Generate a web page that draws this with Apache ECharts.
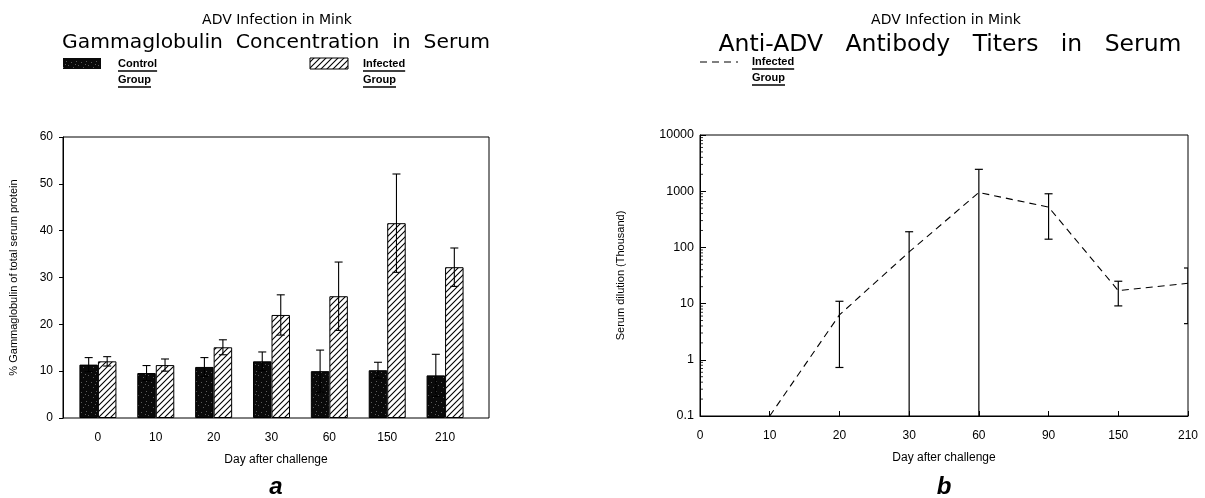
<!DOCTYPE html>
<html><head><meta charset="utf-8">
<script src="https://cdn.jsdelivr.net/npm/echarts@6/dist/echarts.min.js"></script>
<style>html,body{margin:0;padding:0;background:#fff}#c{width:1205px;height:498px}</style>
</head><body><div id="c"></div>
<script>
// ---------- data: panel a ----------
const daysA = ['0','10','20','30','60','150','210'];
const controlMean = [11.4, 9.6, 10.9, 12.1, 10.0, 10.2, 9.1];
const controlErr  = [1.5, 1.6, 2.0, 2.0, 4.5, 1.7, 4.5];
const infectedMean = [12.1, 11.3, 15.1, 22.0, 26.0, 41.6, 32.2];
const infectedErr  = [1.0, 1.3, 1.6, 4.3, 7.3, 10.5, 4.1];
const yTicksA = [0, 10, 20, 30, 40, 50, 60];
// ---------- data: panel b ----------
const daysB = ['0','10','20','30','60','90','150','210'];
const titerMean = ['-', 0.1, 6.3, 83, 950, 520, 17, 23];
const titerLow  = ['-', '-', 0.73, 0.01, 0.01, 140, 9.1, 4.4];
const titerHigh = ['-', '-', 11, 190, 2450, 900, 25, 43];
const logDecades = [0.1, 1, 10, 100, 1000];
const logMinorSteps = [2, 3, 4, 5, 6, 7, 8, 9];

const FONT = 'Liberation Sans';
const TFONT = 'DejaVu Sans';
const BAR_W = 18.5;

function makeHatch(){
  const c = document.createElement('canvas'); c.width = 6; c.height = 6;
  const g = c.getContext('2d');
  g.fillStyle = '#fff'; g.fillRect(0,0,6,6);
  g.strokeStyle = '#000'; g.lineWidth = 1.1;
  g.beginPath();
  g.moveTo(0,6); g.lineTo(6,0);
  g.moveTo(-1,1); g.lineTo(1,-1);
  g.moveTo(5,7); g.lineTo(7,5);
  g.stroke();
  return c;
}
function makeStipple(){
  const c = document.createElement('canvas'); c.width = 10; c.height = 10;
  const g = c.getContext('2d');
  g.fillStyle = '#0a0a0a'; g.fillRect(0,0,10,10);
  g.fillStyle = '#5a5a5a';
  [[1,2],[6,1],[3,7],[8,5],[5,4]].forEach(p=>g.fillRect(p[0],p[1],1,1));
  return c;
}
const hatchPattern = {image: makeHatch(), repeat: 'repeat'};
const stipplePattern = {image: makeStipple(), repeat: 'repeat'};

const measure = (() => { const c = document.createElement('canvas').getContext('2d');
  return (t, f) => { c.font = f; return c.measureText(t).width; }; })();

function legendLabel(x, y, lines){
  const f = 'bold 11px ' + FONT;
  const out = [];
  lines.forEach((t, k) => {
    const yy = y + k * 16;
    const w = measure(t, f);
    out.push({type:'text', x: x, y: yy, style:{text:t, font:f, fill:'#000', textVerticalAlign:'middle'}});
    out.push({type:'line', shape:{x1:x, y1:yy+7, x2:x+w, y2:yy+7}, style:{stroke:'#000', lineWidth:1.3}});
  });
  return out;
}

function errRenderer(sign){
  return function(params, api){
    const i = api.value(0);
    const lo = api.coord([i, api.value(1)]);
    const hi = api.coord([i, api.value(2)]);
    const x = lo[0] + sign * BAR_W / 2;
    const cap = 4;
    const st = {stroke:'#000', lineWidth:1.1};
    return {type:'group', children:[
      {type:'line', shape:{x1:x, y1:hi[1], x2:x, y2:lo[1]}, style:st},
      {type:'line', shape:{x1:x-cap, y1:hi[1], x2:x+cap, y2:hi[1]}, style:st},
      {type:'line', shape:{x1:x-cap, y1:lo[1], x2:x+cap, y2:lo[1]}, style:st}
    ]};
  };
}

const ctrlErrData = controlMean.map((m,i)=>[i, m - controlErr[i], m + controlErr[i]]);
const infErrData = infectedMean.map((m,i)=>[i, m - infectedErr[i], m + infectedErr[i]]);
const titerErrData = daysB.map((d,i)=>[i, titerLow[i], titerHigh[i]]).filter(r => r[1] !== '-');
const minorTickData = [];
logDecades.forEach(d => logMinorSteps.forEach(s => minorTickData.push([0, +(d*s).toPrecision(3)])));

const axisText = {color:'#000', fontFamily: FONT, fontSize: 12};

const option = {
  backgroundColor: '#fff',
  animation: false,
  grid: [
    {left:63, top:137, width:426, height:281, show:true, borderColor:'#000', borderWidth:1, containLabel:false},
    {left:69, top:137, width:405, height:281, show:false},
    {left:700, top:135, width:488, height:281, show:true, borderColor:'#000', borderWidth:1}
  ],
  xAxis: [
    {gridIndex:0, type:'value', min:0, max:1, axisLine:{show:false}, axisTick:{show:false}, axisLabel:{show:false}, splitLine:{show:false},
      name:'Day after challenge', nameLocation:'middle', nameGap:36, nameTextStyle:axisText},
    {gridIndex:1, type:'category', data:daysA, axisLine:{show:false}, axisTick:{show:false},
      axisLabel:Object.assign({margin:14}, axisText)},
    {gridIndex:2, type:'category', data:daysB, boundaryGap:false,
      axisLine:{lineStyle:{color:'#000', width:1}},
      axisTick:{show:true, inside:true, length:5, lineStyle:{color:'#000'}},
      axisLabel:Object.assign({margin:14}, axisText),
      name:'Day after challenge', nameLocation:'middle', nameGap:36, nameTextStyle:axisText}
  ],
  yAxis: [
    {gridIndex:0, type:'value', min:0, max:60, interval:10,
      axisLine:{show:true, lineStyle:{color:'#000'}},
      axisTick:{show:true, length:4, lineStyle:{color:'#000'}},
      axisLabel:Object.assign({margin:10}, axisText), splitLine:{show:false},
      name:'% Gammaglobulin of total serum protein', nameLocation:'middle', nameGap:44,
      nameTextStyle:{color:'#000', fontFamily:FONT, fontSize:11}},
    {gridIndex:1, type:'value', min:0, max:60, show:false},
    {gridIndex:2, type:'log', logBase:10, min:0.1, max:10000,
      axisLine:{show:true, lineStyle:{color:'#000'}},
      axisTick:{show:true, inside:true, length:6, lineStyle:{color:'#000'}},
      axisLabel:Object.assign({margin:6, formatter: v => String(+(+v).toPrecision(3))}, axisText, {fontSize:12.5}),
      splitLine:{show:false}, minorTick:{show:false},
      name:'Serum dilution (Thousand)', nameLocation:'middle', nameGap:74,
      nameTextStyle:{color:'#000', fontFamily:FONT, fontSize:11}}
  ],
  series: [
    {name:'Control Group', type:'bar', xAxisIndex:1, yAxisIndex:1, data:controlMean, barWidth:BAR_W, barGap:'0%',
      itemStyle:{color:stipplePattern, borderColor:'#000', borderWidth:1}},
    {name:'Infected Group', type:'bar', xAxisIndex:1, yAxisIndex:1, data:infectedMean, barWidth:BAR_W, barGap:'0%',
      itemStyle:{color:hatchPattern, borderColor:'#000', borderWidth:1}},
    {type:'custom', xAxisIndex:1, yAxisIndex:1, data:ctrlErrData, encode:{x:0, y:[1,2]}, renderItem:errRenderer(-1), z:5},
    {type:'custom', xAxisIndex:1, yAxisIndex:1, data:infErrData, encode:{x:0, y:[1,2]}, renderItem:errRenderer(1), z:5},
    {name:'Infected Group', type:'line', xAxisIndex:2, yAxisIndex:2, data:titerMean, symbol:'none',
      lineStyle:{color:'#000', width:1.1, type:[7,5]}},
    {type:'custom', xAxisIndex:2, yAxisIndex:2, data:titerErrData, encode:{x:0, y:[1,2]}, clip:true, z:5,
      renderItem:function(params, api){
        const i = api.value(0);
        const lo = api.coord([i, api.value(1)]);
        const hi = api.coord([i, api.value(2)]);
        const x = lo[0], cap = 4, st = {stroke:'#000', lineWidth:1.2};
        return {type:'group', children:[
          {type:'line', shape:{x1:x, y1:hi[1], x2:x, y2:lo[1]}, style:st},
          {type:'line', shape:{x1:x-cap, y1:hi[1], x2:x+cap, y2:hi[1]}, style:st},
          {type:'line', shape:{x1:x-cap, y1:lo[1], x2:x+cap, y2:lo[1]}, style:st}
        ]};
      }},
    {type:'custom', xAxisIndex:2, yAxisIndex:2, data:minorTickData, encode:{x:0, y:1}, z:6,
      renderItem:function(params, api){
        const p = api.coord([api.value(0), api.value(1)]);
        return {type:'line', shape:{x1:p[0], y1:p[1], x2:p[0]+3, y2:p[1]}, style:{stroke:'#000', lineWidth:0.8}};
      }}
  ],
  graphic: [
    {type:'text', x:277, y:20, style:{text:'ADV Infection in Mink', font:'14px '+TFONT, fill:'#000', textAlign:'center', textVerticalAlign:'middle'}},
    {type:'text', x:276, y:43, style:{text:'Gammaglobulin  Concentration  in  Serum', font:'20.3px '+TFONT, fill:'#000', textAlign:'center', textVerticalAlign:'middle'}},
    {type:'text', x:946, y:20, style:{text:'ADV Infection in Mink', font:'14px '+TFONT, fill:'#000', textAlign:'center', textVerticalAlign:'middle'}},
    {type:'text', x:950, y:45, style:{text:'Anti-ADV   Antibody   Titers   in   Serum', font:'23.5px '+TFONT, fill:'#000', textAlign:'center', textVerticalAlign:'middle'}},
    {type:'rect', shape:{x:63, y:58, width:38, height:11}, style:{fill:stipplePattern}},
    ...legendLabel(118, 64, ['Control', 'Group']),
    {type:'rect', shape:{x:310, y:58, width:38, height:11}, style:{fill:hatchPattern, stroke:'#000', lineWidth:1}},
    ...legendLabel(363, 64, ['Infected', 'Group']),
    {type:'line', shape:{x1:700, y1:62, x2:738, y2:62}, style:{stroke:'#000', lineWidth:1.2, lineDash:[7,5]}},
    ...legendLabel(752, 62, ['Infected', 'Group']),
    {type:'text', x:276, y:487, style:{text:'a', font:'italic bold 24px '+FONT, fill:'#000', textAlign:'center', textVerticalAlign:'middle'}},
    {type:'text', x:944, y:487, style:{text:'b', font:'italic bold 24px '+FONT, fill:'#000', textAlign:'center', textVerticalAlign:'middle'}}
  ]
};
const chart = echarts.init(document.getElementById('c'));
chart.setOption(option);
</script></body></html>
